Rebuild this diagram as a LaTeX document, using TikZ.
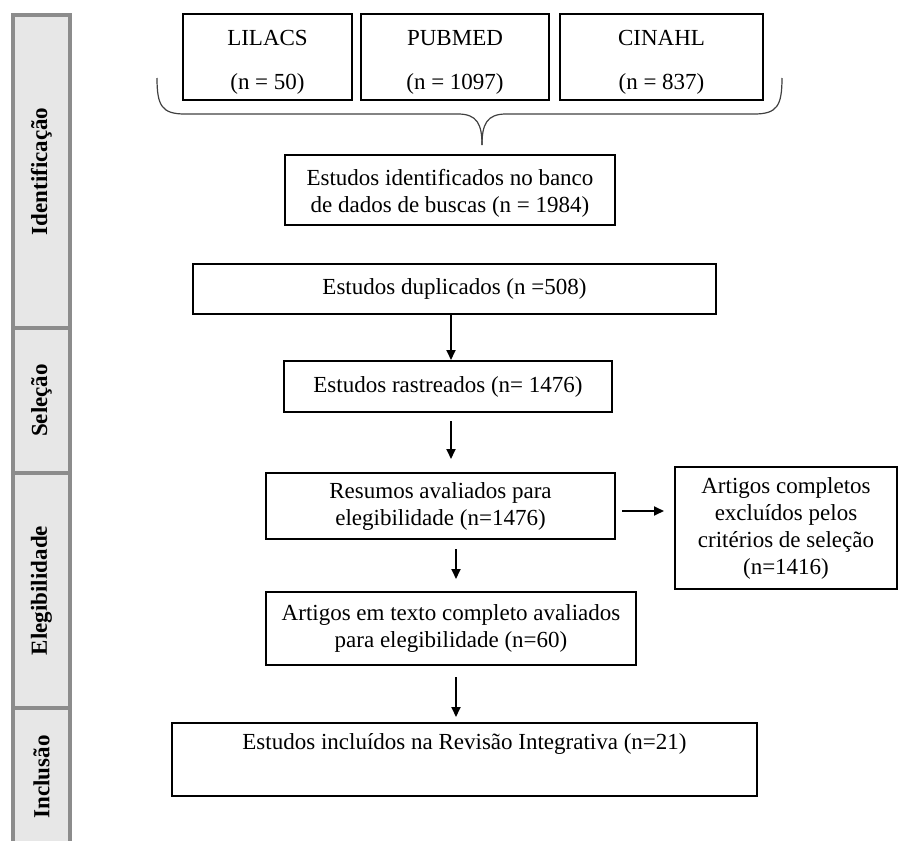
\documentclass[tikz,border=0pt]{standalone}
\usepackage{fontspec}
\setmainfont{Liberation Serif}
\usepackage{tikz}
\usetikzlibrary{arrows.meta}
\definecolor{bordafase}{HTML}{8C8C8C}
\definecolor{fundofase}{HTML}{E7E7E7}

\begin{document}
\begin{tikzpicture}[x=0.5pt, y=-0.5pt,
	caixa/.style={draw, line width=1pt, align=center, inner sep=0pt, font=\fontsize{11.5}{13.5}\selectfont},
	fase/.style={draw=bordafase, fill=fundofase, line width=2pt, rotate=90, minimum height=28.5pt, inner sep=0pt, font=\fontsize{11.5}{13.5}\selectfont\bfseries},
	seta/.style={-{Triangle[length=5pt,width=4.5pt]}, line width=0.9pt},
	chave/.style={line width=0.6pt, color=black!75}]
	\useasboundingbox (0,0) rectangle (901,841);
	\node[fase, minimum width=156.5pt] (fid) at (41.5,171.5) {Identificação};
	\node[fase, minimum width=72.5pt] (fsel) at (41.5,400.5) {Seleção};
	\node[fase, minimum width=117.5pt] (fele) at (41.5,590.5) {Elegibilidade};
	\node[fase, minimum width=69pt] (finc) at (41.5,777) {Inclusão};
	\node[caixa, minimum width=84.5pt, minimum height=43pt] (lil) at (267.5,57) {\rule{0pt}{13pt}LILACS\\[8.5pt](n = 50)};
	\node[caixa, minimum width=94pt, minimum height=43pt] (pub) at (455,57) {\rule{0pt}{13pt}PUBMED\\[8.5pt](n = 1097)};
	\node[caixa, minimum width=101.5pt, minimum height=43pt] (cin) at (661.5,57) {\rule{0pt}{13pt}CINAHL\\[8.5pt](n = 837)};
	\coordinate (ponta) at (482,145);
	\draw[chave] (157,78) .. controls (157,106) and (162,114) .. (185,114) -- (458,114) .. controls (477,114) and (482,124) .. (ponta);
	\draw[chave] (782,78) .. controls (782,106) and (777,114) .. (754,114) -- (506,114) .. controls (487,114) and (482,124) .. (ponta);
	\node[caixa, minimum width=165pt, minimum height=35pt] (ide) at (450,190) {\rule{0pt}{11pt}Estudos identificados no banco\\de dados de buscas (n = 1984)};
	\node[caixa, minimum width=261.5pt, minimum height=25pt] (dup) at (454.5,289) {Estudos duplicados (n =508)};
	\node[caixa, minimum width=164pt, minimum height=25.5pt] (ras) at (448,386.5) {Estudos rastreados (n= 1476)};
	\node[caixa, minimum width=174.5pt, minimum height=33pt] (res) at (440.5,506) {Resumos avaliados para\\elegibilidade (n=1476)};
	\node[caixa, minimum width=111pt, minimum height=61pt] (exc) at (786,528) {Artigos completos\\excluídos pelos\\critérios de seleção\\(n=1416)};
	\node[caixa, minimum width=185pt, minimum height=36.5pt] (art) at (451,628.5) {Artigos em texto completo avaliados\\para elegibilidade (n=60)};
	\node[caixa, minimum width=292.5pt, minimum height=36.5pt] (inc) at (464.5,759.5) {Estudos incluídos na Revisão Integrativa (n=21)\\\strut};
	\draw[seta] ([xshift=-1.75pt]dup.south) -- ([xshift=-1.75pt]dup.south |- ras.north);
	\draw[seta, shorten <=4pt, shorten >=6.5pt] ([xshift=1.5pt]ras.south) -- ([xshift=1.5pt]ras.south |- res.north);
	\draw[seta, shorten <=3pt, shorten >=5pt] ([yshift=-2.5pt]res.east) -- ([yshift=-2.5pt]res.east -| exc.west);
	\draw[seta, shorten <=4.5pt, shorten >=6pt] ([xshift=2.5pt]art.north |- res.south) -- ([xshift=2.5pt]art.north);
	\draw[seta, shorten <=5.5pt, shorten >=2.5pt] ([xshift=2.5pt]art.south) -- ([xshift=2.5pt]art.south |- inc.north);
\end{tikzpicture}
\end{document}
